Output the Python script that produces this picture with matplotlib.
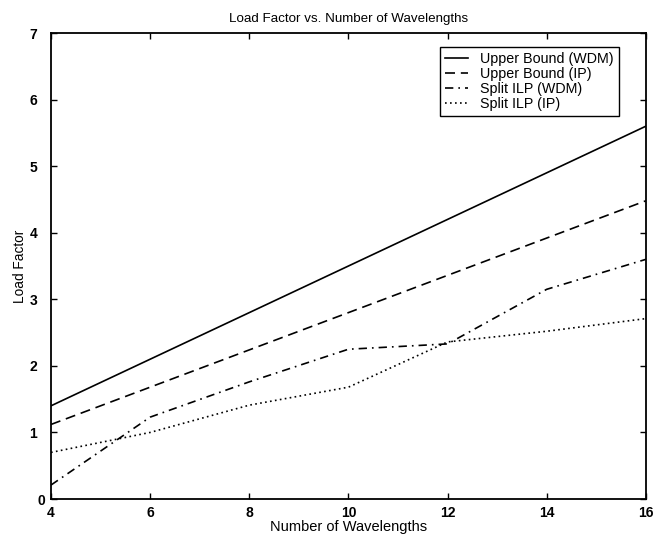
import numpy as np
import matplotlib
matplotlib.use('Agg')
import matplotlib.pyplot as plt
import matplotlib.transforms as mtransforms

plt.rcParams['font.family'] = ['Liberation Sans', 'DejaVu Sans']

wavelengths = [4, 6, 8, 10, 12, 14, 16]
ub_wdm = [1.40, 2.10, 2.80, 3.50, 4.20, 4.90, 5.60]
ub_ip = [1.12, 1.68, 2.24, 2.80, 3.36, 3.92, 4.48]
split_wdm = [0.21, 1.23, 1.76, 2.25, 2.33, 3.15, 3.60]
split_ip = [0.70, 1.00, 1.41, 1.68, 2.36, 2.52, 2.71]

labels = ['Upper Bound (WDM)', 'Upper Bound (IP)', 'Split ILP (WDM)', 'Split ILP (IP)']
styles = ['-', (0, (6, 3.5)), (0, (5, 3, 1, 3)), (0, (1, 2))]

fig = plt.figure(figsize=(6.58, 5.36), dpi=100)
ax = fig.add_axes([0.0775, 0.069, 0.904, 0.8694])

for series, lab, ls in zip([ub_wdm, ub_ip, split_wdm, split_ip], labels, styles):
    ax.plot(wavelengths, series, color='k', linestyle=ls, linewidth=1.2, label=lab)

ax.set_xlim(4, 16)
ax.set_ylim(0, 7)
ax.set_xticks(wavelengths)
ax.set_yticks(range(0, 8))
ax.tick_params(direction='in', length=4, width=1, top=True, right=True, labelsize=10)
ax.tick_params(axis='y', pad=10)
ax.tick_params(axis='x', pad=5)
for lab in ax.get_xticklabels() + ax.get_yticklabels():
    lab.set_fontweight('bold')
# the "0" sits closer to the corner in the original
zero = ax.get_yticklabels()[0]
zero.set_transform(zero.get_transform() + mtransforms.ScaledTranslation(6/72., 0, fig.dpi_scale_trans))
for sp in ax.spines.values():
    sp.set_linewidth(1.3)

ax.set_title('Load Factor vs. Number of Wavelengths', fontsize=9.6, pad=8)
ax.set_xlabel('Number of Wavelengths', fontsize=10.5, labelpad=0)
ax.set_ylabel('Load Factor', fontsize=9.8, labelpad=2)

leg = ax.legend(loc='upper right', bbox_to_anchor=(0.955, 0.970), fontsize=10.3,
                fancybox=False, framealpha=1, edgecolor='k', handlelength=1.6,
                borderpad=0.35, labelspacing=0.06, handletextpad=0.9, borderaxespad=0)
leg.get_frame().set_linewidth(1.0)

fig.savefig('out.png', dpi=100)
